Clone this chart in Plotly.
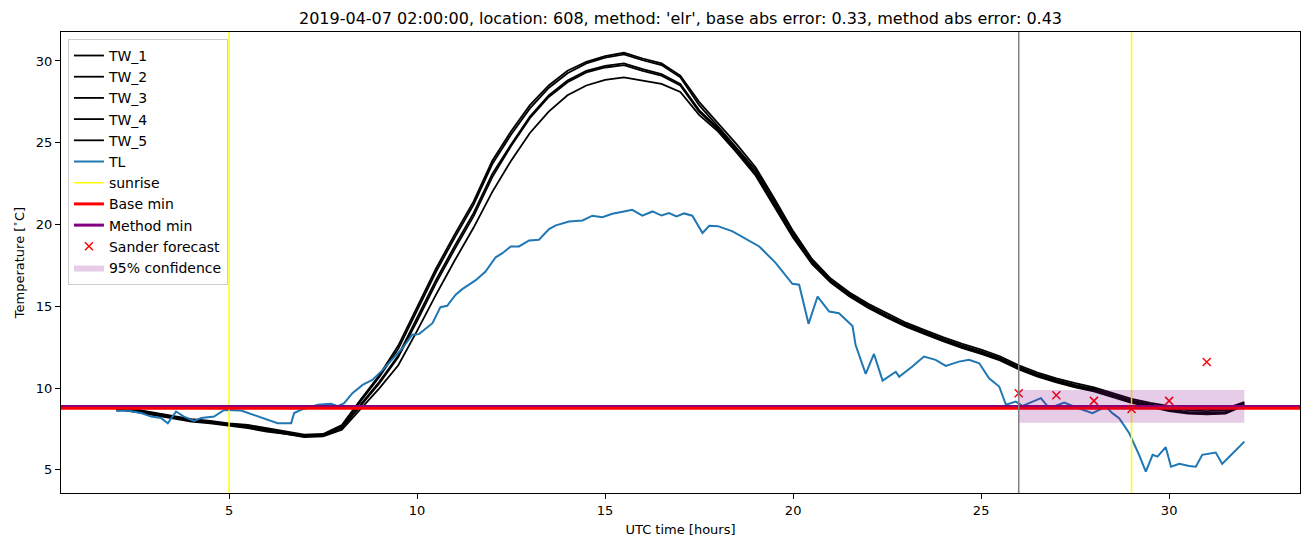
import plotly.graph_objects as go

# ---------------- data ----------------
TW_hours = [2.0 + 0.5 * i for i in range(61)]

TW_1 = [8.85, 8.7, 8.5, 8.3, 8.1, 8.0, 7.85, 7.75, 7.55, 7.35, 7.15, 7.2, 7.75, 9.3, 10.8, 12.6, 15.0, 17.3, 19.4, 21.4,
        23.9, 25.7, 27.3, 28.5, 29.4, 29.95, 30.3, 30.5, 30.15, 29.85, 29.1, 27.5, 26.2, 24.9, 23.5, 21.6, 19.6, 17.9,
        16.7, 15.85, 15.15, 14.55, 14.0, 13.55, 13.1, 12.7, 12.35, 11.95, 11.4, 10.95, 10.6, 10.3, 10.05, 9.7, 9.35,
        9.1, 8.9, 8.75, 8.7, 8.75, 9.15]
TW_2 = [8.8, 8.65, 8.45, 8.25, 8.05, 7.95, 7.8, 7.7, 7.5, 7.3, 7.1, 7.15, 7.7, 9.2, 10.7, 12.4, 14.8, 17.1, 19.2, 21.2,
        23.7, 25.5, 27.1, 28.35, 29.25, 29.85, 30.2, 30.4, 30.05, 29.75, 29.0, 27.3, 26.0, 24.7, 23.35, 21.45, 19.5,
        17.8, 16.6, 15.75, 15.05, 14.45, 13.9, 13.45, 13.0, 12.6, 12.25, 11.85, 11.3, 10.85, 10.5, 10.2, 9.95, 9.6,
        9.25, 9.0, 8.8, 8.65, 8.6, 8.65, 9.1]
TW_3 = [8.75, 8.65, 8.45, 8.25, 8.05, 7.9, 7.75, 7.65, 7.45, 7.25, 7.1, 7.1, 7.6, 9.0, 10.4, 12.0, 14.3, 16.6, 18.7, 20.7,
        23.1, 24.9, 26.6, 27.9, 28.8, 29.4, 29.7, 29.85, 29.5, 29.2, 28.6, 27.0, 25.9, 24.6, 23.2, 21.3, 19.35, 17.7,
        16.55, 15.7, 15.0, 14.4, 13.85, 13.4, 12.95, 12.55, 12.2, 11.8, 11.25, 10.8, 10.45, 10.15, 9.9, 9.55, 9.2,
        8.95, 8.7, 8.55, 8.5, 8.55, 9.0]
TW_4 = [8.7, 8.6, 8.4, 8.2, 8.0, 7.9, 7.75, 7.6, 7.4, 7.2, 7.05, 7.1, 7.55, 8.9, 10.3, 11.9, 14.1, 16.4, 18.5, 20.5,
        22.9, 24.8, 26.5, 27.8, 28.7, 29.3, 29.6, 29.75, 29.4, 29.1, 28.5, 26.9, 25.8, 24.5, 23.1, 21.2, 19.3, 17.65,
        16.5, 15.65, 14.95, 14.35, 13.8, 13.35, 12.9, 12.5, 12.15, 11.75, 11.2, 10.75, 10.4, 10.1, 9.85, 9.5, 9.15,
        8.9, 8.65, 8.5, 8.45, 8.5, 9.0]
TW_5 = [8.7, 8.55, 8.35, 8.15, 7.95, 7.85, 7.7, 7.55, 7.35, 7.2, 7.0, 7.05, 7.45, 8.7, 10.0, 11.4, 13.5, 15.7, 17.8,
        19.8, 22.0, 23.9, 25.6, 26.9, 27.9, 28.5, 28.85, 29.0, 28.8, 28.6, 28.1, 26.7, 25.7, 24.4, 23.0, 21.1, 19.2,
        17.6, 16.45, 15.6, 14.9, 14.3, 13.75, 13.3, 12.85, 12.45, 12.1, 11.7, 11.15, 10.7, 10.35, 10.05, 9.8, 9.45,
        9.1, 8.85, 8.6, 8.45, 8.4, 8.45, 8.95]

TL_hours = [2.0, 2.3, 2.66, 2.93, 3.19, 3.37, 3.59, 3.8, 4.07, 4.26, 4.6, 4.87, 5.32, 5.66, 6.03, 6.29, 6.65, 6.73,
            6.91, 7.36, 7.71, 7.89, 8.06, 8.28, 8.55, 8.81, 9.08, 9.61, 9.87, 10.05, 10.41, 10.62, 10.8, 11.02,
            11.2, 11.56, 11.82, 12.09, 12.27, 12.49, 12.71, 12.98, 13.24, 13.51, 13.69, 14.04, 14.4, 14.66, 14.93,
            15.19, 15.5, 15.72, 15.99, 16.26, 16.5, 16.7, 16.9, 17.1, 17.32, 17.59, 17.77, 18.0, 18.39, 19.1,
            19.54, 19.98, 20.16, 20.41, 20.65, 20.96, 21.22, 21.58, 21.66, 21.93, 22.15, 22.38, 22.73, 22.82,
            23.17, 23.48, 23.79, 24.06, 24.41, 24.68, 24.95, 25.21, 25.48, 25.66, 25.92, 26.1, 26.37, 26.59,
            26.81, 27.21, 27.52, 27.96, 28.32, 28.49, 28.67, 28.94, 29.2, 29.38, 29.56, 29.69, 29.91, 30.05,
            30.27, 30.53, 30.71, 30.88, 31.24, 31.41, 31.6, 32.0]
TL = [8.6, 8.63, 8.48, 8.26, 8.18, 7.85, 8.57, 8.26, 8.0, 8.18, 8.26, 8.67, 8.63, 8.36, 8.06, 7.85, 7.85, 8.48,
      8.67, 8.98, 9.04, 8.9, 9.08, 9.69, 10.2, 10.5, 11.1, 12.44, 13.26, 13.3, 13.97, 14.95, 15.03, 15.7,
      16.05, 16.6, 17.13, 18.0, 18.25, 18.66, 18.66, 19.03, 19.07, 19.72, 19.95, 20.19, 20.25, 20.54, 20.45,
      20.66, 20.8, 20.9, 20.54, 20.8, 20.55, 20.7, 20.5, 20.68, 20.54, 19.48, 19.92, 19.9, 19.58, 18.66,
      17.64, 16.38, 16.32, 13.93, 15.6, 14.68, 14.58, 13.8, 12.65, 10.87, 12.09, 10.46, 11.0, 10.7,
      11.32, 11.93, 11.73, 11.36, 11.62, 11.73, 11.52, 10.6, 10.1, 8.98, 9.18, 8.91, 9.18, 9.39,
      8.77, 9.12, 8.83, 8.47, 8.87, 8.47, 8.16, 7.24, 5.92, 4.9, 5.92, 5.81, 6.39, 5.2,
      5.37, 5.24, 5.2, 5.92, 6.06, 5.37, 5.81, 6.73]

sunrise_hours = [5, 29]
forecast_start = 26
base_min = 8.77
method_min = 8.88
sander_hours = [26, 27, 28, 29, 30, 31]
sander_values = [9.69, 9.57, 9.22, 8.73, 9.22, 11.6]
conf_hours = [26, 32]
conf_low = 7.89
conf_high = 9.89

X_RANGE = [0.53, 33.48]
Y_RANGE = [3.59, 31.77]

title = "2019-04-07 02:00:00, location: 608, method: 'elr', base abs error: 0.33, method abs error: 0.43"

# ---------------- figure ----------------
fig = go.Figure()
for name, vals in [("TW_1", TW_1), ("TW_2", TW_2), ("TW_3", TW_3), ("TW_4", TW_4), ("TW_5", TW_5)]:
    fig.add_trace(go.Scatter(x=TW_hours, y=vals, mode="lines", name=name,
                             line=dict(color="black", width=1.8)))
fig.add_trace(go.Scatter(x=TL_hours, y=TL, mode="lines", name="TL",
                         line=dict(color="#1f77b4", width=2)))

sx, sy = [], []
for h in sunrise_hours:
    sx += [h, h, None]
    sy += [Y_RANGE[0], Y_RANGE[1], None]
fig.add_trace(go.Scatter(x=sx, y=sy, mode="lines", name="sunrise",
                         line=dict(color="yellow", width=1.5)))
fig.add_trace(go.Scatter(x=X_RANGE, y=[method_min, method_min], mode="lines", name="Method min",
                         line=dict(color="purple", width=3), showlegend=False))
fig.add_trace(go.Scatter(x=X_RANGE, y=[base_min, base_min], mode="lines", name="Base min",
                         line=dict(color="red", width=3)))
fig.add_trace(go.Scatter(x=[None], y=[None], mode="lines", name="Method min",
                         line=dict(color="purple", width=3)))
fig.add_trace(go.Scatter(x=sander_hours, y=sander_values, mode="markers", name="Sander forecast",
                         marker=dict(symbol="x-thin", size=8, color="red",
                                     line=dict(width=1.5, color="red"))))
fig.add_trace(go.Scatter(x=[conf_hours[0], conf_hours[1], conf_hours[1], conf_hours[0], conf_hours[0]],
                         y=[conf_low, conf_low, conf_high, conf_high, conf_low],
                         mode="lines", fill="toself", fillcolor="rgba(128,0,128,0.2)",
                         line=dict(width=0), name="95% confidence"))
fig.add_trace(go.Scatter(x=[forecast_start, forecast_start], y=Y_RANGE, mode="lines",
                         line=dict(color="gray", width=1.5), showlegend=False))

fig.update_layout(
    width=1310, height=547,
    margin=dict(l=61, r=10, t=32, b=54),
    paper_bgcolor="white", plot_bgcolor="white",
    font=dict(family="DejaVu Sans", size=13, color="black"),
    title=dict(text=title, x=0.5, xref="paper", y=1 - 18 / 547, yanchor="middle",
               font=dict(size=16, family="DejaVu Sans", color="black")),
    showlegend=True,
    legend=dict(x=0.0056, y=0.985, xanchor="left", yanchor="top",
                bgcolor="rgba(255,255,255,0.8)", bordercolor="#cccccc", borderwidth=1,
                font=dict(size=14), tracegroupgap=0),
)
fig.update_xaxes(range=X_RANGE, tickvals=[5, 10, 15, 20, 25, 30], showgrid=False, zeroline=False,
                 showline=True, linecolor="black", linewidth=1, mirror=True,
                 ticks="outside", ticklen=5, tickcolor="black",
                 title=dict(text="UTC time [hours]", font=dict(size=13), standoff=8))
fig.update_yaxes(range=Y_RANGE, tickvals=[5, 10, 15, 20, 25, 30], showgrid=False, zeroline=False,
                 showline=True, linecolor="black", linewidth=1, mirror=True,
                 ticks="outside", ticklen=5, tickcolor="black",
                 title=dict(text="Temperature [<sup>∘</sup>C]", font=dict(size=13), standoff=8))

fig.write_html("out.html")
